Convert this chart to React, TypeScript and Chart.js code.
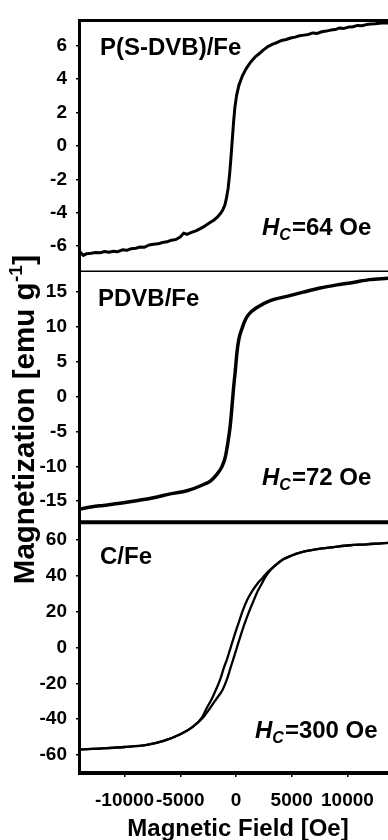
import React, { useEffect, useRef } from 'react';
import { Chart, registerables } from 'chart.js';

Chart.register(...registerables);

// ---- Data ----
const fieldTicks = [-10000, -5000, 0, 5000, 10000];
const p1Ticks = [-6, -4, -2, 0, 2, 4, 6];
const p2Ticks = [-15, -10, -5, 0, 5, 10, 15];
const p3Ticks = [-60, -40, -20, 0, 20, 40, 60];

const panelNames = ['P(S-DVB)/Fe', 'PDVB/Fe', 'C/Fe'];
const coercivity = ['64', '72', '300'];

// Panel 1: P(S-DVB)/Fe
const p1Field = [
  -14000, -13700, -13400, -13000, -12600, -12200, -11800, -11400, -11000, -10600,
  -10200, -9800, -9400, -9000, -8600, -8200, -7800, -7400, -7000, -6600,
  -6200, -5800, -5400, -5000, -4700, -4400, -4000, -3600, -3200, -2800,
  -2400, -2000, -1700, -1400, -1200, -1000, -850, -700, -560, -440,
  -330, -220, -100, 50, 250, 550, 900, 1300, 1700, 2100,
  2500, 2900, 3300, 3700, 4100, 4500, 4900, 5300, 5700, 6100,
  6500, 6900, 7300, 7700, 8100, 8500, 8900, 9300, 9700, 10100,
  10500, 10900, 11300, 11700, 12100, 12500, 12900, 13300, 13700, 14000,
];
const p1Mag = [
  -6.35, -6.55, -6.45, -6.42, -6.38, -6.4, -6.32, -6.36, -6.3, -6.33,
  -6.22, -6.25, -6.15, -6.12, -6.05, -6.06, -5.93, -5.88, -5.86, -5.78,
  -5.74, -5.64, -5.6, -5.45, -5.22, -5.3, -5.18, -5.08, -4.95, -4.8,
  -4.62, -4.45, -4.28, -4.05, -3.85, -3.55, -3.1, -2.5, -1.6, -0.6,
  0.4, 1.4, 2.3, 3.0, 3.6, 4.15, 4.6, 5.0, 5.3, 5.52,
  5.75, 5.95, 6.08, 6.18, 6.3, 6.36, 6.45, 6.5, 6.58, 6.62,
  6.66, 6.75, 6.72, 6.82, 6.86, 6.92, 6.95, 7.05, 7.02, 7.1,
  7.12, 7.2, 7.18, 7.25, 7.28, 7.3, 7.33, 7.36, 7.35, 7.4,
];

// Panel 2: PDVB/Fe
const p2Field = [
  -14000, -12900, -11900, -10400, -8800, -7400, -5900, -4400, -2900, -2300,
  -1700, -1250, -950, -700, -520, -370, -210, -70, 90, 250,
  540, 830, 1130, 1880, 3070, 4570, 6030, 7550, 9080, 10510,
  12000, 13600, 14000,
];
const p2Mag = [
  -16.1, -15.8, -15.6, -15.3, -14.9, -14.5, -13.95, -13.5, -12.6, -12.1,
  -11.1, -10.0, -8.6, -6.3, -4.2, -1.6, 1.4, 3.6, 6.4, 8.2,
  9.8, 11.0, 11.8, 12.8, 13.8, 14.4, 15.0, 15.6, 16.05, 16.4,
  16.8, 17.0, 17.05,
];

// Panel 3: C/Fe, descending branch (from +H to -H)
const p3DownField = [
  -14000, -12000, -10000, -8000, -6500, -5000, -3800, -3050, -2650, -2200,
  -1800, -1400, -1100, -780, -480, -180, 220, 600, 1000, 1450,
  1900, 2400, 2850, 3400, 4240, 5000, 5760, 6500, 7260, 8750,
  10240, 11730, 13000, 14000,
];
const p3DownMag = [
  -56.8, -56.3, -55.5, -54.3, -52.1, -48.4, -43.8, -39, -34, -29,
  -23.5, -17.5, -11.5, -6, 0, 6, 13.5, 20.5, 26.5, 31.5,
  35.5, 39, 42.2, 45.2, 49.3, 51.4, 53, 54.1, 55, 56.1,
  57.1, 57.6, 58.2, 58.6,
];
// Panel 3: C/Fe, ascending branch (from -H to +H)
const p3UpField = [
  -14000, -12000, -10000, -8000, -6500, -5000, -3800, -2950, -2350, -1800,
  -1200, -800, -500, -220, 80, 380, 780, 1200, 1600, 1950,
  2300, 2600, 2950, 3400, 4240, 5000, 5760, 6500, 7260, 8750,
  10240, 11730, 13000, 14000,
];
const p3UpMag = [
  -56.8, -56.3, -55.5, -54.3, -52.1, -48.4, -43.8, -39, -34, -29,
  -23.5, -17.5, -11.5, -6, 0, 6, 13.5, 20.5, 26.5, 31.5,
  35.5, 39, 42.2, 45.2, 49.3, 51.4, 53, 54.1, 55, 56.1,
  57.1, 57.6, 58.2, 58.6,
];

// ---- Chart ----
const FAMILY = '"Liberation Sans", Arial, sans-serif';
const tickFont = { family: FAMILY, size: 19, weight: 'bold' as const };

const pts = (xs: number[], ys: number[]) => xs.map((x, i) => ({ x, y: ys[i] }));

const yScale = (ticks: number[], min: number, max: number) => ({
  type: 'linear' as const,
  position: 'left' as const,
  stack: 'mag',
  stackWeight: 1,
  min,
  max,
  afterBuildTicks: (s: any) => {
    s.ticks = ticks.map((v) => ({ value: v }));
  },
  afterFit: (s: any) => {
    s.width = 80;
  },
  grid: { drawOnChartArea: false, drawTicks: true, tickLength: 4, color: '#000', lineWidth: 1.5 },
  border: { display: false },
  ticks: { color: '#000', font: tickFont, padding: 9, autoSkip: false, callback: (v: any) => String(v) },
});

const line = (ctx: CanvasRenderingContext2D, x1: number, y1: number, x2: number, y2: number, w: number) => {
  ctx.beginPath();
  ctx.lineWidth = w;
  ctx.moveTo(x1, y1);
  ctx.lineTo(x2, y2);
  ctx.stroke();
};

const drawHc = (ctx: CanvasRenderingContext2D, x: number, y: number, value: string) => {
  ctx.font = `italic bold 24px ${FAMILY}`;
  ctx.fillText('H', x, y);
  const wH = ctx.measureText('H').width;
  ctx.font = `italic bold 16px ${FAMILY}`;
  ctx.fillText('C', x + wH, y + 5);
  const wC = ctx.measureText('C').width;
  ctx.font = `bold 24px ${FAMILY}`;
  ctx.fillText(`=${value} Oe`, x + wH + wC + 1, y);
};

const decor = {
  id: 'decor',
  afterDatasetsDraw(chart: any) {
    const { ctx, chartArea } = chart;
    const s1 = chart.scales.y1;
    const s2 = chart.scales.y2;
    const s3 = chart.scales.y3;
    ctx.save();
    ctx.strokeStyle = '#000';
    ctx.fillStyle = '#000';
    ctx.lineCap = 'butt';
    // frame
    line(ctx, chartArea.left - 0.5, chartArea.top - 1.5, chartArea.left - 0.5, chartArea.bottom + 2, 3);
    line(ctx, chartArea.left - 2, chartArea.top, chartArea.right, chartArea.top, 3);
    line(ctx, chartArea.left, s1.bottom, chartArea.right, s1.bottom, 1.5);
    line(ctx, chartArea.left, s2.bottom, chartArea.right, s2.bottom, 4);
    line(ctx, chartArea.left - 2, chartArea.bottom, chartArea.right, chartArea.bottom, 4);
    line(ctx, chartArea.right, chartArea.top, chartArea.right, chartArea.bottom, 3);

    // panel names
    ctx.textAlign = 'left';
    ctx.textBaseline = 'alphabetic';
    ctx.font = `bold 24px ${FAMILY}`;
    ctx.fillText(panelNames[0], chartArea.left + 20, s1.top + 35);
    ctx.fillText(panelNames[1], chartArea.left + 18, s2.top + 34.5);
    ctx.fillText(panelNames[2], chartArea.left + 20, s3.top + 42);

    // coercivity labels
    drawHc(ctx, chartArea.left + 182, s1.top + 215, coercivity[0]);
    drawHc(ctx, chartArea.left + 182, s2.top + 213.5, coercivity[1]);
    drawHc(ctx, chartArea.left + 175, s3.top + 216, coercivity[2]);

    // x title
    ctx.textAlign = 'center';
    ctx.font = `bold 24px ${FAMILY}`;
    ctx.fillText('Magnetic Field [Oe]', 238, 836);

    // y title (rotated) with superscript
    ctx.save();
    ctx.translate(34, 420);
    ctx.rotate(-Math.PI / 2);
    ctx.textAlign = 'left';
    const main = 'Magnetization [emu g';
    const sup = '-1';
    const end = ']';
    ctx.font = `bold 29.5px ${FAMILY}`;
    const wMain = ctx.measureText(main).width;
    const wEnd = ctx.measureText(end).width;
    ctx.font = `bold 19px ${FAMILY}`;
    const wSup = ctx.measureText(sup).width;
    const start = -(wMain + wSup + wEnd) / 2;
    ctx.font = `bold 29.5px ${FAMILY}`;
    ctx.fillText(main, start, 0);
    ctx.fillText(end, start + wMain + wSup + 1, 0);
    ctx.font = `bold 19px ${FAMILY}`;
    ctx.fillText(sup, start + wMain + 0.5, -12);
    ctx.restore();

    ctx.restore();
  },
};

const lineStyle = {
  borderColor: '#000',
  borderWidth: 3,
  pointRadius: 0,
  fill: false,
  borderJoinStyle: 'round' as const,
  borderCapStyle: 'round' as const,
};

export default function App() {
  const ref = useRef<HTMLCanvasElement | null>(null);

  useEffect(() => {
    if (!ref.current) return;
    const chart = new Chart(ref.current, {
      type: 'line',
      data: {
        datasets: [
          { ...lineStyle, data: pts(p1Field, p1Mag), yAxisID: 'y1', tension: 0 },
          { ...lineStyle, data: pts(p2Field, p2Mag), yAxisID: 'y2', borderWidth: 3.5, cubicInterpolationMode: 'monotone' },
          { ...lineStyle, data: pts(p3DownField, p3DownMag), yAxisID: 'y3', borderWidth: 2.3, cubicInterpolationMode: 'monotone' },
          { ...lineStyle, data: pts(p3UpField, p3UpMag), yAxisID: 'y3', borderWidth: 2.3, cubicInterpolationMode: 'monotone' },
        ] as any,
      },
      options: {
        animation: false,
        responsive: false,
        devicePixelRatio: 1,
        layout: { padding: { top: 15, right: 8, left: 0, bottom: 0 } },
        plugins: { legend: { display: false }, tooltip: { enabled: false } },
        scales: {
          x: {
            type: 'linear',
            min: -14000,
            max: 14000,
            afterBuildTicks: (s: any) => {
              s.ticks = fieldTicks.map((v) => ({ value: v }));
            },
            afterFit: (s: any) => {
              s.height = 67;
            },
            grid: { drawOnChartArea: false, drawTicks: true, tickLength: 4, color: '#000', lineWidth: 1.5 },
            border: { display: false },
            ticks: {
              color: '#000',
              font: tickFont,
              padding: 12,
              maxRotation: 0,
              autoSkip: false,
              callback: (v: any) => String(v),
            },
          },
          y3: yScale(p3Ticks, -70, 70),
          y2: yScale(p2Ticks, -18, 18),
          y1: yScale(p1Ticks, -7.5, 7.5),
        } as any,
      },
      plugins: [decor],
    });
    return () => chart.destroy();
  }, []);

  return (
    <div
      style={{
        position: 'fixed',
        left: 0,
        top: 0,
        width: 388,
        height: 840,
        overflow: 'hidden',
        background: '#fff',
      }}
    >
      <canvas ref={ref} width={400} height={840} style={{ display: 'block' }} />
    </div>
  );
}
